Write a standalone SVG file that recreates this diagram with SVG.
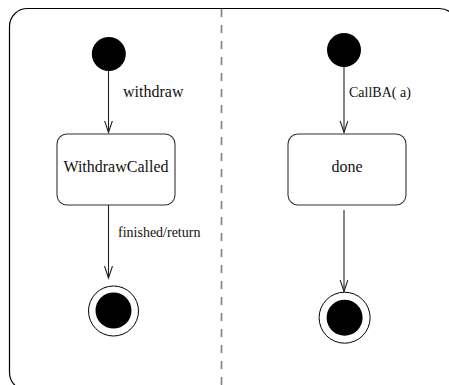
<svg xmlns="http://www.w3.org/2000/svg" width="449" height="385" viewBox="0 0 449 385">
<style>
.frame{fill:none;stroke:#000;stroke-width:1.2}
.div{fill:none;stroke:#7a7a7a;stroke-width:1.5;stroke-dasharray:8 8}
.state{fill:#fff;stroke:#333;stroke-width:1.1}
.init{fill:#000}
.ring{fill:#fff;stroke:#000;stroke-width:1}
.edge{fill:none;stroke:#222;stroke-width:1.1}
.lbl{fill:#111;font-family:"Liberation Serif","Times New Roman",serif}
</style>
<defs>
<marker id="arr" markerWidth="14" markerHeight="10" refX="12" refY="4" orient="auto" markerUnits="userSpaceOnUse">
<path d="M0,0 L12,4 L0,8" fill="none" stroke="#222" stroke-width="1.1"/>
</marker>
</defs>
<rect class="frame" x="9.5" y="8.5" width="448" height="382" rx="18" ry="18"/>
<line class="div" x1="221.5" y1="9" x2="221.5" y2="385"/>
<g id="connectors">
<line class="edge" x1="108.5" y1="71" x2="108.5" y2="132.5" marker-end="url(#arr)"/>
<line class="edge" x1="108.5" y1="205" x2="108.5" y2="278" marker-end="url(#arr)"/>
<line class="edge" x1="344" y1="67" x2="344" y2="132.5" marker-end="url(#arr)"/>
<line class="edge" x1="344" y1="210" x2="344" y2="291.5" marker-end="url(#arr)"/>
<text class="lbl" font-size="16" x="123" y="97">withdraw</text>
<text class="lbl" font-size="14" x="118" y="237">finished/return</text>
<text class="lbl" font-size="14" x="349" y="97">CallBA( a)</text>
</g>
<g id="init1"><circle class="init" cx="108.8" cy="54" r="17"/></g>
<g id="withdrawCalled">
<rect class="state" x="57" y="134" width="118" height="71" rx="10" ry="10"/>
<text class="lbl" font-size="16" x="116" y="172" text-anchor="middle">WithdrawCalled</text>
</g>
<g id="final1"><circle class="ring" cx="113.5" cy="311" r="25"/><circle class="init" cx="113.5" cy="310.5" r="18"/></g>
<g id="init2"><circle class="init" cx="344" cy="50" r="17"/></g>
<g id="done">
<rect class="state" x="288" y="134" width="118" height="71" rx="10" ry="10"/>
<text class="lbl" font-size="16" x="347" y="172" text-anchor="middle">done</text>
</g>
<g id="final2"><circle class="ring" cx="344.6" cy="317.7" r="25.5"/><circle class="init" cx="344.6" cy="317.7" r="18"/></g>
</svg>
